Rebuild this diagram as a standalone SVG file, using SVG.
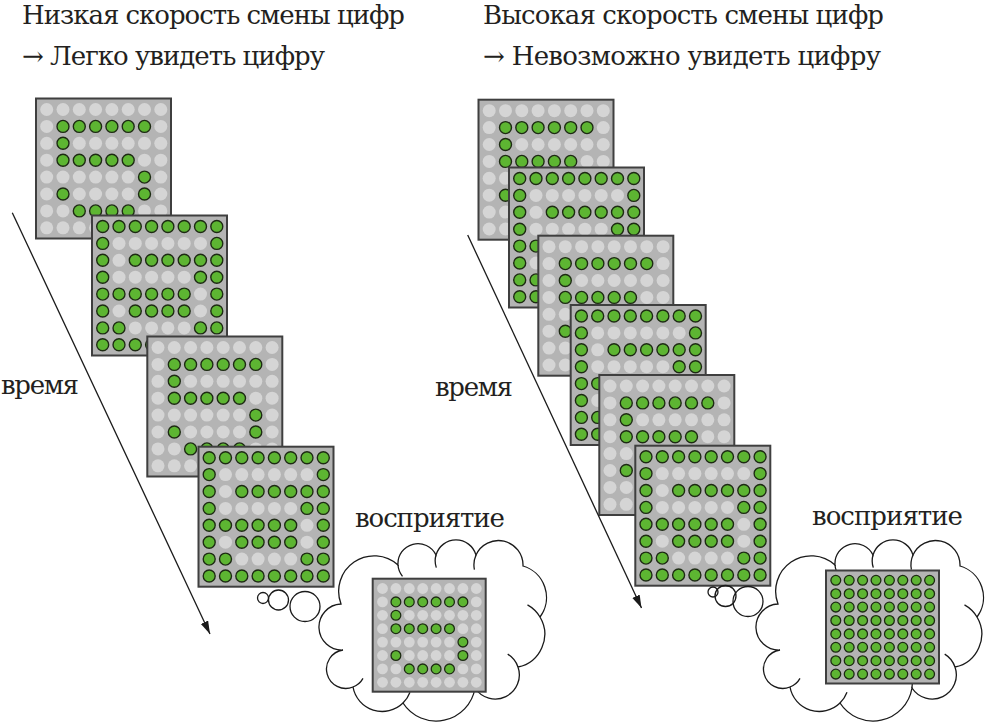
<svg xmlns="http://www.w3.org/2000/svg" width="987" height="724" viewBox="0 0 987 724">
<style>
.pan{fill:#b4b4b4;stroke:#3f3f3f;stroke-width:2}
.off{fill:#d5d5d5}
.on{fill:#5db532;stroke:#1d2a13;stroke-width:1.4}
.ln{fill:none;stroke:#1a1a1a;stroke-width:1.3}
.cl{fill:#fff;stroke:#1a1a1a;stroke-width:1.3}
.bb{fill:none;stroke:#1a1a1a;stroke-width:1.3}
.t{font-family:"DejaVu Serif","Liberation Serif",serif;font-size:26px;fill:#231f20}
</style>
<defs>
<marker id="ah" markerUnits="userSpaceOnUse" markerWidth="14" markerHeight="10" refX="13" refY="4" orient="auto"><path d="M0,0 L13,4 L0,8 Z" fill="#1a1a1a"/></marker>
<g id="rb"><circle cx="10.7" r="6.5"/><circle cx="27" r="6.5"/><circle cx="43.3" r="6.5"/><circle cx="59.6" r="6.5"/><circle cx="75.9" r="6.5"/><circle cx="92.2" r="6.5"/><circle cx="108.5" r="6.5"/><circle cx="124.8" r="6.5"/></g>
<g id="rbg"><circle cx="10.7" r="6"/><circle cx="27" r="6"/><circle cx="43.3" r="6"/><circle cx="59.6" r="6"/><circle cx="75.9" r="6"/><circle cx="92.2" r="6"/><circle cx="108.5" r="6"/><circle cx="124.8" r="6"/></g>
<g id="rs"><circle cx="9.8" r="5.4"/><circle cx="23.2" r="5.4"/><circle cx="36.6" r="5.4"/><circle cx="50" r="5.4"/><circle cx="63.4" r="5.4"/><circle cx="76.8" r="5.4"/><circle cx="90.2" r="5.4"/><circle cx="103.6" r="5.4"/></g>
<g id="rsg"><circle cx="9.8" r="4.9"/><circle cx="23.2" r="4.9"/><circle cx="36.6" r="4.9"/><circle cx="50" r="4.9"/><circle cx="63.4" r="4.9"/><circle cx="76.8" r="4.9"/><circle cx="90.2" r="4.9"/><circle cx="103.6" r="4.9"/></g>
<g id="gridB"><rect class="pan" width="135" height="140"/><g class="off"><use href="#rb" y="11"/><use href="#rb" y="27.9"/><use href="#rb" y="44.8"/><use href="#rb" y="61.7"/><use href="#rb" y="78.6"/><use href="#rb" y="95.5"/><use href="#rb" y="112.4"/><use href="#rb" y="129.3"/></g></g>
<g id="panA"><use href="#gridB"/><g class="on">
<circle cx="27" cy="27.9" r="6"/><circle cx="43.3" cy="27.9" r="6"/><circle cx="59.6" cy="27.9" r="6"/><circle cx="75.9" cy="27.9" r="6"/><circle cx="92.2" cy="27.9" r="6"/><circle cx="108.5" cy="27.9" r="6"/>
<circle cx="27" cy="44.8" r="6"/>
<circle cx="27" cy="61.7" r="6"/><circle cx="43.3" cy="61.7" r="6"/><circle cx="59.6" cy="61.7" r="6"/><circle cx="75.9" cy="61.7" r="6"/><circle cx="92.2" cy="61.7" r="6"/>
<circle cx="108.5" cy="78.6" r="6"/>
<circle cx="27" cy="95.5" r="6"/><circle cx="108.5" cy="95.5" r="6"/>
<circle cx="43.3" cy="112.4" r="6"/><circle cx="59.6" cy="112.4" r="6"/><circle cx="75.9" cy="112.4" r="6"/><circle cx="92.2" cy="112.4" r="6"/>
</g></g>
<g id="panB"><use href="#gridB"/><g class="on">
<use href="#rbg" y="11"/>
<circle cx="10.7" cy="27.9" r="6"/><circle cx="124.8" cy="27.9" r="6"/>
<circle cx="10.7" cy="44.8" r="6"/><circle cx="43.3" cy="44.8" r="6"/><circle cx="59.6" cy="44.8" r="6"/><circle cx="75.9" cy="44.8" r="6"/><circle cx="92.2" cy="44.8" r="6"/><circle cx="108.5" cy="44.8" r="6"/><circle cx="124.8" cy="44.8" r="6"/>
<circle cx="10.7" cy="61.7" r="6"/><circle cx="108.5" cy="61.7" r="6"/><circle cx="124.8" cy="61.7" r="6"/>
<circle cx="10.7" cy="78.6" r="6"/><circle cx="27" cy="78.6" r="6"/><circle cx="43.3" cy="78.6" r="6"/><circle cx="59.6" cy="78.6" r="6"/><circle cx="75.9" cy="78.6" r="6"/><circle cx="92.2" cy="78.6" r="6"/><circle cx="124.8" cy="78.6" r="6"/>
<circle cx="10.7" cy="95.5" r="6"/><circle cx="43.3" cy="95.5" r="6"/><circle cx="59.6" cy="95.5" r="6"/><circle cx="75.9" cy="95.5" r="6"/><circle cx="92.2" cy="95.5" r="6"/><circle cx="124.8" cy="95.5" r="6"/>
<circle cx="10.7" cy="112.4" r="6"/><circle cx="27" cy="112.4" r="6"/><circle cx="108.5" cy="112.4" r="6"/><circle cx="124.8" cy="112.4" r="6"/>
<use href="#rbg" y="129.3"/>
</g></g>
<g id="smA"><rect class="pan" width="113" height="113"/><g class="off"><use href="#rs" y="9.8"/><use href="#rs" y="23.2"/><use href="#rs" y="36.6"/><use href="#rs" y="50"/><use href="#rs" y="63.4"/><use href="#rs" y="76.8"/><use href="#rs" y="90.2"/><use href="#rs" y="103.6"/></g>
<g class="on" style="stroke-width:1.3">
<circle cx="23.2" cy="23.2" r="4.9"/><circle cx="36.6" cy="23.2" r="4.9"/><circle cx="50" cy="23.2" r="4.9"/><circle cx="63.4" cy="23.2" r="4.9"/><circle cx="76.8" cy="23.2" r="4.9"/><circle cx="90.2" cy="23.2" r="4.9"/>
<circle cx="23.2" cy="36.6" r="4.9"/>
<circle cx="23.2" cy="50" r="4.9"/><circle cx="36.6" cy="50" r="4.9"/><circle cx="50" cy="50" r="4.9"/><circle cx="63.4" cy="50" r="4.9"/><circle cx="76.8" cy="50" r="4.9"/>
<circle cx="90.2" cy="63.4" r="4.9"/>
<circle cx="23.2" cy="76.8" r="4.9"/><circle cx="90.2" cy="76.8" r="4.9"/>
<circle cx="36.6" cy="90.2" r="4.9"/><circle cx="50" cy="90.2" r="4.9"/><circle cx="63.4" cy="90.2" r="4.9"/><circle cx="76.8" cy="90.2" r="4.9"/>
</g></g>
<g id="smAll"><rect class="pan" width="113" height="113"/><g class="on" style="stroke-width:1.3"><use href="#rsg" y="9.8"/><use href="#rsg" y="23.2"/><use href="#rsg" y="36.6"/><use href="#rsg" y="50"/><use href="#rsg" y="63.4"/><use href="#rsg" y="76.8"/><use href="#rsg" y="90.2"/><use href="#rsg" y="103.6"/></g></g>
<g id="cloud">
<path class="cl" d="M341,604 A35.5,35.5 0 0 1 398,565 A20,20 0 0 1 436,555 A20.8,20.8 0 0 1 476,555 A24.6,24.6 0 0 1 523,566 A32.8,32.8 0 0 1 540,617 A33.6,33.6 0 0 1 518,667 A24.1,24.1 0 0 1 475,688 A39.4,39.4 0 0 1 403,703 A29.7,29.7 0 0 1 353,687 A19.3,19.3 0 1 1 343,650 A23,23 0 1 1 341,604 Z"/>
<path class="ln" d="M402.5,576.3 A20,20 0 0 1 398,565 M436.3,567.6 A20.8,20.8 0 0 1 436,555 M474.4,569.7 A24.6,24.6 0 0 1 476,555 M527.5,604.9 A33.6,33.6 0 0 1 540,617 M507.7,654.1 A24.1,24.1 0 0 1 518,667 M474.8,674.3 A39.4,39.4 0 0 1 475,688 M410,692.2 A29.7,29.7 0 0 1 403,703 M363,678.4 A19.3,19.3 0 0 1 353,687"/>
</g>
</defs>

<g id="title-left">
<text class="t" x="22" y="23.5" textLength="383">Низкая скорость смены цифр</text>
<text class="t" x="22" y="65" textLength="303">→ Легко увидеть цифру</text>
</g>
<g id="title-right">
<text class="t" x="483" y="23.5" textLength="401">Высокая скорость смены цифр</text>
<text class="t" x="483" y="65" textLength="398">→ Невозможно увидеть цифру</text>
</g>

<g id="left-frame-1"><use href="#panA" x="36" y="98.5"/></g>
<g id="left-frame-2"><use href="#panB" x="92" y="215.5"/></g>
<g id="left-frame-3"><use href="#panA" x="147.3" y="336.5"/></g>
<g id="left-frame-4"><use href="#panB" x="198.5" y="446.7"/></g>

<g id="right-frame-1"><use href="#panA" x="478.5" y="99.7"/></g>
<g id="right-frame-2"><use href="#panB" x="509" y="167.5"/></g>
<g id="right-frame-3"><use href="#panA" x="538.3" y="235.7"/></g>
<g id="right-frame-4"><use href="#panB" x="570.7" y="305"/></g>
<g id="right-frame-5"><use href="#panA" x="599.3" y="375"/></g>
<g id="right-frame-6"><use href="#panB" x="635.3" y="445.7"/></g>

<g id="time-left"><text class="t" x="1" y="394" textLength="78">время</text></g>
<g id="time-right"><text class="t" x="435" y="396" textLength="78">время</text></g>

<g id="perception-left">
<text class="t" x="355" y="527" textLength="150">восприятие</text>
<circle class="bb" cx="263" cy="598" r="5.5"/>
<circle class="bb" cx="278.5" cy="600" r="10"/>
<circle class="bb" cx="305" cy="606.5" r="15"/>
<use href="#cloud"/>
<use href="#smA" x="372.7" y="578.7"/>
</g>

<g id="perception-right">
<text class="t" x="812" y="525" textLength="151">восприятие</text>
<circle class="bb" cx="713" cy="592" r="5"/>
<circle class="bb" cx="725.5" cy="596" r="10.5"/>
<circle class="bb" cx="748" cy="601.5" r="15"/>
<use href="#cloud" x="437"/>
<use href="#smAll" x="826" y="570.5"/>
</g>

<g id="connectors">
<path class="ln" d="M12.3,212.7 L210,634" marker-end="url(#ah)"/>
<path class="ln" d="M467.7,235 L641.5,608" marker-end="url(#ah)"/>
</g>
</svg>
